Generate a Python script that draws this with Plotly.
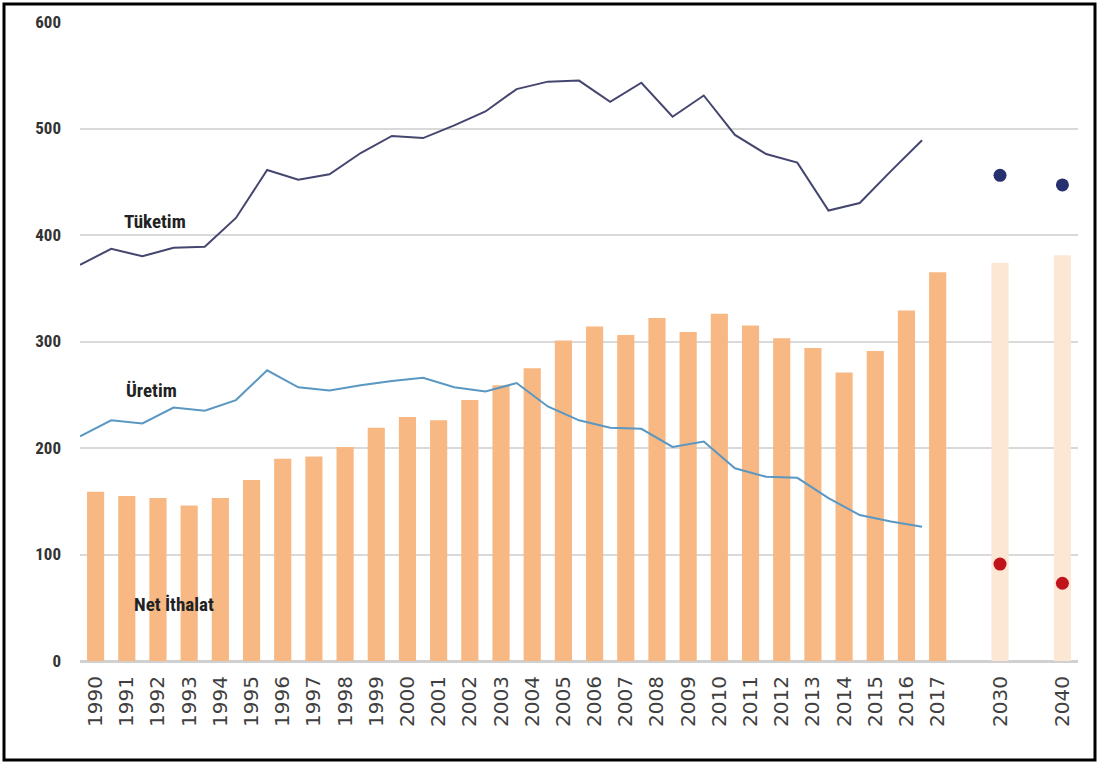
import plotly.graph_objects as go

years = [str(y) for y in range(1990, 2018)]
proj_years = ["2030", "2040"]

net_ithalat = [159, 155, 153, 146, 153, 170, 190, 192, 201, 219,
               229, 226, 245, 259, 275, 301, 314, 306, 322, 309,
               326, 315, 303, 294, 271, 291, 329, 365]
net_ithalat_proj = [374, 381]

tuketim = [372, 387, 380, 388, 389, 416, 461, 452, 457, 477,
           493, 491, 503, 516, 537, 544, 545, 525, 543, 511,
           531, 494, 476, 468, 423, 430, 460, 489]
tuketim_proj = [456, 447]

uretim = [211, 226, 223, 238, 235, 245, 273, 257, 254, 259,
          263, 266, 257, 253, 261, 239, 226, 219, 218, 201,
          206, 181, 173, 172, 153, 137, 131, 126]
uretim_proj = [91, 73]

# positions derived from category order (gap slot before each projection year)
hist_x = list(range(len(years)))
proj_x = [len(years) + 1, len(years) + 3]
line_x = [i - 0.5 for i in hist_x]

bar_color = "#F7B883"
bar_light = "#FCE6D4"

fig = go.Figure()
fig.add_trace(go.Bar(x=hist_x, y=net_ithalat, marker_color=bar_color, width=0.55,
                     marker_line_width=0, showlegend=False))
fig.add_trace(go.Bar(x=proj_x, y=net_ithalat_proj, marker_color=bar_light, width=0.55,
                     marker_line_width=0, showlegend=False))
fig.add_trace(go.Scatter(x=line_x, y=tuketim, mode="lines",
                         line=dict(color="#45466F", width=2), showlegend=False))
fig.add_trace(go.Scatter(x=line_x, y=uretim, mode="lines",
                         line=dict(color="#5A97C2", width=2), showlegend=False))
fig.add_trace(go.Scatter(x=proj_x, y=tuketim_proj, mode="markers",
                         marker=dict(color="#26306F", size=13), showlegend=False))
fig.add_trace(go.Scatter(x=proj_x, y=uretim_proj, mode="markers",
                         marker=dict(color="#C0141C", size=13), showlegend=False))

label_font = dict(family="Liberation Sans Narrow, Roboto Condensed, Liberation Sans",
                  size=19, color="#222222", weight="bold")
fig.add_annotation(x=1.9, y=413, text="Tüketim", showarrow=False, font=label_font)
fig.add_annotation(x=1.8, y=254, text="Üretim", showarrow=False, font=label_font)
fig.add_annotation(x=2.5, y=53, text="Net İthalat", showarrow=False, font=label_font)

L, R, T, B = 80, 21, 22, 103
W, H = 1099, 764
pw, ph = W - L - R, H - T - B
fig.add_shape(type="rect", xref="paper", yref="paper",
              x0=(4 - L) / pw, x1=(W - 4 - L) / pw,
              y0=(H - B - (H - 4)) / ph, y1=(H - B - 4) / ph,
              line=dict(color="black", width=3), fillcolor="rgba(0,0,0,0)", layer="above")

fig.update_layout(
    width=W, height=H,
    margin=dict(l=L, r=R, t=T, b=B),
    plot_bgcolor="white", paper_bgcolor="white",
    bargap=0.45,
    xaxis=dict(
        range=[-0.5, proj_x[-1] + 0.5],
        tickmode="array", tickvals=hist_x + proj_x, ticktext=years + proj_years,
        tickangle=-90, showgrid=False, zeroline=False, showline=False,
        tickfont=dict(family="DejaVu Sans", size=20, color="#404040"),
        ticklabelstandoff=10,
    ),
    yaxis=dict(
        range=[0, 600], dtick=100, showgrid=True, gridcolor="#D9D9D9", gridwidth=2,
        zeroline=True, zerolinecolor="#D0D0D0", zerolinewidth=3, showline=False,
        tickfont=dict(family="Liberation Sans Narrow, Roboto Condensed, Liberation Sans",
                      size=17, color="#333333", weight="bold"),
        ticklabelstandoff=18,
    ),
)

fig.write_html("out.html", config={"displayModeBar": False},
               post_script="document.body.style.margin='0';document.body.style.overflow='hidden';")
